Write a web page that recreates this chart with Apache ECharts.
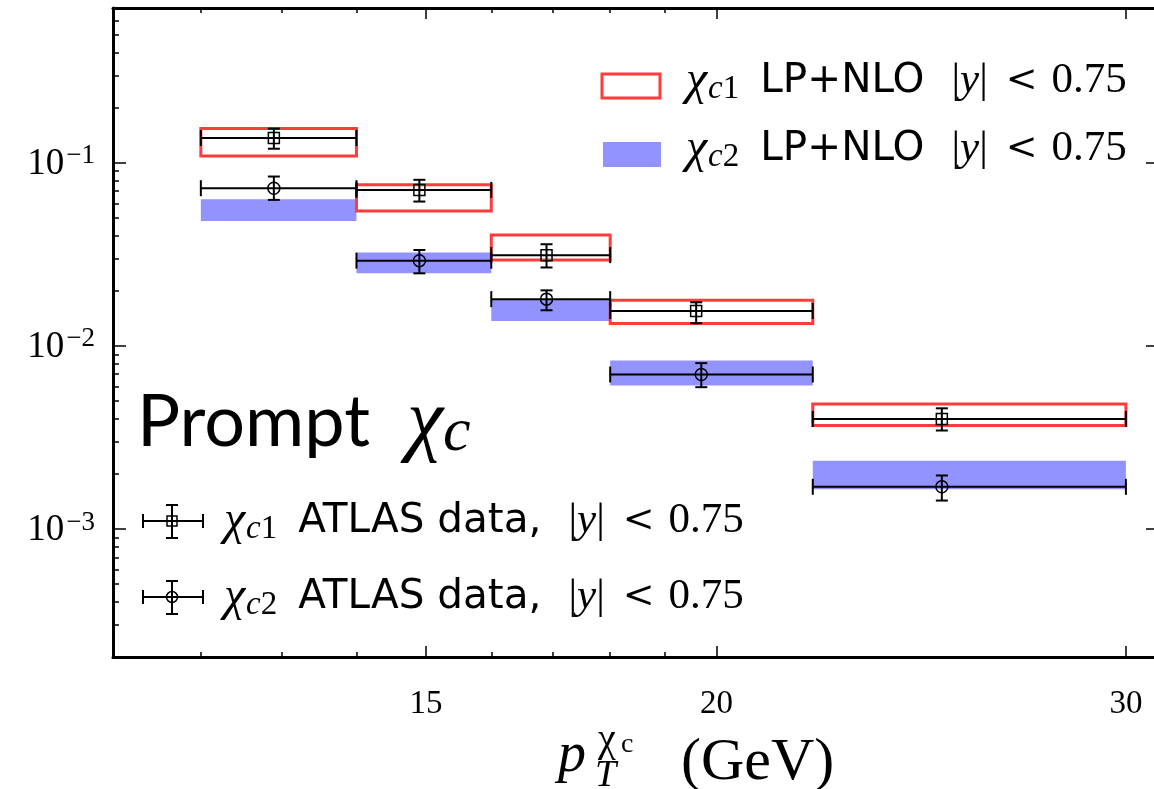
<!DOCTYPE html>
<html><head><meta charset="utf-8">
<script src="https://cdn.jsdelivr.net/npm/echarts@6/dist/echarts.min.js"></script>
<style>html,body{margin:0;padding:0;background:#fff;overflow:hidden}#c{width:1154px;height:789px}</style>
</head><body><div id="c"></div><script>
// ---- data ----
const binLo = [12, 14, 16, 18, 22];
const binHi = [14, 16, 18, 22, 30];
const c1TheoryLo = [0.109, 0.0546, 0.0294, 0.01323, 0.00367];
const c1TheoryHi = [0.154, 0.0758, 0.0403, 0.01775, 0.00482];
const c2TheoryLo = [0.0481, 0.0249, 0.01367, 0.00608, 0.00165];
const c2TheoryHi = [0.0632, 0.0324, 0.0180, 0.00833, 0.00236];
const c1X = [12.9, 14.9, 16.9, 19.6, 25.0];
const c1Val = [0.1365, 0.0711, 0.0313, 0.01551, 0.00399];
const c1ErrLo = [0.1193, 0.0614, 0.0268, 0.0133, 0.00345];
const c1ErrHi = [0.1536, 0.0807, 0.0359, 0.0173, 0.00456];
const c2X = [12.9, 14.9, 16.9, 19.7, 25.0];
const c2Val = [0.0726, 0.0292, 0.0180, 0.00698, 0.0017];
const c2ErrLo = [0.0627, 0.0249, 0.01565, 0.00595, 0.00143];
const c2ErrHi = [0.0841, 0.0334, 0.0201, 0.00805, 0.00196];
const xMajor = [15, 20, 30];
const xMinor = [12, 13, 14, 16, 17, 18, 19];
const yMajor = [0.001, 0.01, 0.1];
const yMinor = [0.0002, 0.0003, 0.0004, 0.0005, 0.0006, 0.0007, 0.0008, 0.0009,
                0.002, 0.003, 0.004, 0.005, 0.006, 0.007, 0.008, 0.009,
                0.02, 0.03, 0.04, 0.05, 0.06, 0.07, 0.08, 0.09,
                0.2, 0.3, 0.4, 0.5, 0.6, 0.7];
const xRange = [11, 31];
const yRange = [0.0002, 0.7];

// ---- styles ----
const SERIF = "'Liberation Serif', 'DejaVu Serif', serif";
const SANS = "Lato, 'Noto Sans', sans-serif";
const LSANS = "'DejaVu Sans', sans-serif";
const RED = '#ff3b3b';
const BLUE = '#9393ff';

function xAxisDef(pos, ticks, len, showLine, showLabel) {
  return {
    type: 'log', min: xRange[0], max: xRange[1], position: pos,
    axisLine: {show: showLine, lineStyle: {color: '#000', width: 3}},
    axisTick: {show: true, inside: true, length: len, customValues: ticks, lineStyle: {color: '#000', width: 1.5}},
    axisLabel: showLabel ? {show: true, customValues: ticks, margin: 30,
      formatter: v => '{t|' + Math.round(v) + '}',
      rich: {t: {fontFamily: SERIF, fontSize: 33, color: '#000', lineHeight: 34}}} : {show: false},
    splitLine: {show: false}, minorTick: {show: false}
  };
}
function yAxisDef(pos, ticks, len, showLine, showLabel) {
  return {
    type: 'log', min: yRange[0], max: yRange[1], position: pos,
    axisLine: {show: showLine, lineStyle: {color: '#000', width: 3}},
    axisTick: {show: true, inside: true, length: len, customValues: ticks, lineStyle: {color: '#000', width: 1.5}},
    axisLabel: showLabel ? {show: true, customValues: ticks, margin: 18,
      formatter: v => '{b|10}{s|\u2212' + Math.round(-Math.log10(v)) + '}',
      rich: {
        b: {fontFamily: SERIF, fontSize: 37, color: '#000', lineHeight: 40, verticalAlign: 'bottom'},
        s: {fontFamily: SERIF, fontSize: 27, color: '#000', lineHeight: 27, verticalAlign: 'top', padding: [0, 0, 0, 2]}
      }} : {show: false},
    splitLine: {show: false}, minorTick: {show: false}
  };
}

function boxSeries(name, lo, hi, style, z) {
  return {
    type: 'custom', name, z, silent: true, xAxisIndex: 0, yAxisIndex: 0,
    data: binLo.map((b, i) => [b, binHi[i], lo[i], hi[i]]),
    encode: {x: [0, 1], y: [2, 3]},
    renderItem(params, api) {
      const a = api.coord([api.value(0), api.value(3)]);
      const b = api.coord([api.value(1), api.value(2)]);
      return {type: 'rect', shape: {x: a[0], y: a[1], width: b[0] - a[0], height: b[1] - a[1]}, style};
    }
  };
}

function dataSeries(name, xs, v, lo, hi, marker, z) {
  return {
    type: 'custom', name, z, silent: true, xAxisIndex: 0, yAxisIndex: 0,
    data: xs.map((x, i) => [x, v[i], lo[i], hi[i], binLo[i], binHi[i]]),
    encode: {x: [0, 4, 5], y: [1, 2, 3]},
    renderItem(params, api) {
      const c = api.coord([api.value(0), api.value(1)]);
      const l = api.coord([api.value(4), api.value(1)]);
      const r = api.coord([api.value(5), api.value(1)]);
      const t = api.coord([api.value(0), api.value(3)]);
      const b = api.coord([api.value(0), api.value(2)]);
      const ls = {stroke: '#000', lineWidth: 2, fill: null};
      const ch = [
        {type: 'line', shape: {x1: l[0], y1: c[1], x2: r[0], y2: c[1]}, style: ls},
        {type: 'line', shape: {x1: l[0], y1: c[1] - 8, x2: l[0], y2: c[1] + 8}, style: ls},
        {type: 'line', shape: {x1: r[0], y1: c[1] - 8, x2: r[0], y2: c[1] + 8}, style: ls},
        {type: 'line', shape: {x1: c[0], y1: t[1], x2: c[0], y2: b[1]}, style: ls},
        {type: 'line', shape: {x1: c[0] - 6, y1: t[1], x2: c[0] + 6, y2: t[1]}, style: ls},
        {type: 'line', shape: {x1: c[0] - 6, y1: b[1], x2: c[0] + 6, y2: b[1]}, style: ls}
      ];
      if (marker === 'square') {
        ch.push({type: 'rect', shape: {x: c[0] - 5.5, y: c[1] - 5.5, width: 11, height: 11}, style: {stroke: '#000', lineWidth: 1.5, fill: null}});
      } else {
        ch.push({type: 'circle', shape: {cx: c[0], cy: c[1], r: 6}, style: {stroke: '#000', lineWidth: 1.5, fill: null}});
      }
      return {type: 'group', children: ch};
    }
  };
}

// ---- legend / annotation helpers (layout only) ----
function legendIcon(cx, cy, marker) {
  const ls = {stroke: '#000', lineWidth: 2, fill: null};
  const ch = [
    {type: 'line', shape: {x1: cx - 29, y1: cy, x2: cx + 31, y2: cy}, style: ls},
    {type: 'line', shape: {x1: cx - 29, y1: cy - 7, x2: cx - 29, y2: cy + 7}, style: ls},
    {type: 'line', shape: {x1: cx + 31, y1: cy - 7, x2: cx + 31, y2: cy + 7}, style: ls},
    {type: 'line', shape: {x1: cx, y1: cy - 16, x2: cx, y2: cy + 17}, style: ls},
    {type: 'line', shape: {x1: cx - 6, y1: cy - 16, x2: cx + 6, y2: cy - 16}, style: ls},
    {type: 'line', shape: {x1: cx - 6, y1: cy + 17, x2: cx + 6, y2: cy + 17}, style: ls}
  ];
  if (marker === 'square') ch.push({type: 'rect', shape: {x: cx - 5, y: cy - 5, width: 10, height: 10}, style: {stroke: '#000', lineWidth: 1.5, fill: null}});
  else ch.push({type: 'circle', shape: {cx: cx, cy: cy, r: 5.5}, style: {stroke: '#000', lineWidth: 1.5, fill: null}});
  return {type: 'group', children: ch, z: 100};
}
const LH = 50;
const richCommon = {
  chi: {fontFamily: SERIF, fontStyle: 'italic', fontSize: 48, fill: '#000', lineHeight: LH, padding: [0, 1, 0, 0]},
  sub: {fontFamily: SERIF, fontStyle: 'italic', fontSize: 33, fill: '#000', lineHeight: 34, verticalAlign: 'bottom'},
  subn: {fontFamily: SERIF, fontSize: 33, fill: '#000', lineHeight: 34, verticalAlign: 'bottom', padding: [0, 11, 0, 0]},
  sans: {fontFamily: LSANS, fontSize: 40.5, fill: '#000', lineHeight: LH, padding: [0, 0, 0, 10]},
  bar1: {fontFamily: SERIF, fontSize: 43, fill: '#000', lineHeight: LH, padding: [0, 0, 0, 27]},
  m: {fontFamily: SERIF, fontSize: 43, fill: '#000', lineHeight: LH},
  mi: {fontFamily: SERIF, fontStyle: 'italic', fontSize: 43, fill: '#000', lineHeight: LH},
  lt: {fontFamily: "'DejaVu Serif', serif", fontSize: 38, fill: '#000', lineHeight: LH, padding: [0, 14, 0, 18]}
};
function legendText(x, y, n, label) {
  return {
    type: 'text', x, y, z: 100,
    style: {
      text: '{chi|\u03c7}{sub|c}{subn|' + n + '}{sans|' + label + '}{bar1||}{mi|y}{m||}{lt|<}{m|0.75}',
      rich: richCommon, verticalAlign: 'middle', align: 'left'
    }
  };
}

const chart = echarts.init(document.getElementById('c'));
chart.setOption({
  animation: false,
  backgroundColor: '#fff',
  grid: {left: 113, top: 8, width: 1046, height: 649, containLabel: false, outerBoundsMode: 'none'},
  xAxis: [
    xAxisDef('bottom', xMajor, 11, true, true),
    xAxisDef('bottom', xMinor, 5, false, false),
    xAxisDef('top', xMajor, 11, true, false),
    xAxisDef('top', xMinor, 5, false, false)
  ],
  yAxis: [
    yAxisDef('left', yMajor, 13, true, true),
    yAxisDef('left', yMinor, 6, false, false),
    yAxisDef('right', yMajor, 13, true, false)
  ],
  series: [
    boxSeries('chi_c2 LP+NLO', c2TheoryLo, c2TheoryHi, {fill: BLUE, stroke: null}, 2),
    boxSeries('chi_c1 LP+NLO', c1TheoryLo, c1TheoryHi, {fill: null, stroke: RED, lineWidth: 3}, 3),
    dataSeries('chi_c1 ATLAS', c1X, c1Val, c1ErrLo, c1ErrHi, 'square', 5),
    dataSeries('chi_c2 ATLAS', c2X, c2Val, c2ErrLo, c2ErrHi, 'circle', 5)
  ],
  graphic: [
    {type: 'rect', z: 100, shape: {x: 602, y: 74, width: 58, height: 24}, style: {fill: null, stroke: RED, lineWidth: 3}},
    {type: 'rect', z: 100, shape: {x: 603, y: 142, width: 58, height: 25}, style: {fill: BLUE}},
    legendText(686, 81, '1', 'LP+NLO'),
    legendText(686, 149, '2', 'LP+NLO'),
    {
      type: 'text', x: 137, y: 423, z: 100,
      style: {
        text: '{p|Prompt  }{chi|\u03c7}{sub|c}',
        rich: {
          p: {fontFamily: SANS, fontSize: 72, fill: '#000', lineHeight: 84},
          chi: {fontFamily: SERIF, fontStyle: 'italic', fontSize: 82, fill: '#000', lineHeight: 84},
          sub: {fontFamily: SERIF, fontStyle: 'italic', fontSize: 62, fill: '#000', lineHeight: 62, verticalAlign: 'bottom'}
        },
        verticalAlign: 'middle', align: 'left'
      }
    },
    legendIcon(172, 521, 'square'),
    legendIcon(172, 597, 'circle'),
    legendText(224, 521, '1', 'ATLAS data,'),
    legendText(224, 597, '2', 'ATLAS data,'),
    // x axis title: p_T^{chi_c} (GeV)
    {type: 'text', x: 558, y: 756, z: 100, style: {text: 'p', fontFamily: SERIF, fontStyle: 'italic', fontSize: 56, fill: '#000', verticalAlign: 'middle', align: 'left'}},
    {type: 'text', x: 598, y: 740, z: 100, style: {text: '\u03c7', fontFamily: SERIF, fontSize: 40, fill: '#000', verticalAlign: 'middle', align: 'left'}},
    {type: 'text', x: 621, y: 745, z: 100, style: {text: 'c', fontFamily: SERIF, fontSize: 28, fill: '#000', verticalAlign: 'middle', align: 'left'}},
    {type: 'text', x: 595, y: 776, z: 100, style: {text: 'T', fontFamily: SERIF, fontStyle: 'italic', fontSize: 38, fill: '#000', verticalAlign: 'middle', align: 'left'}},
    {type: 'text', x: 681, y: 763, z: 100, style: {text: '(GeV)', fontFamily: SERIF, fontSize: 60, fill: '#000', verticalAlign: 'middle', align: 'left'}}
  ]
});
</script></body></html>
